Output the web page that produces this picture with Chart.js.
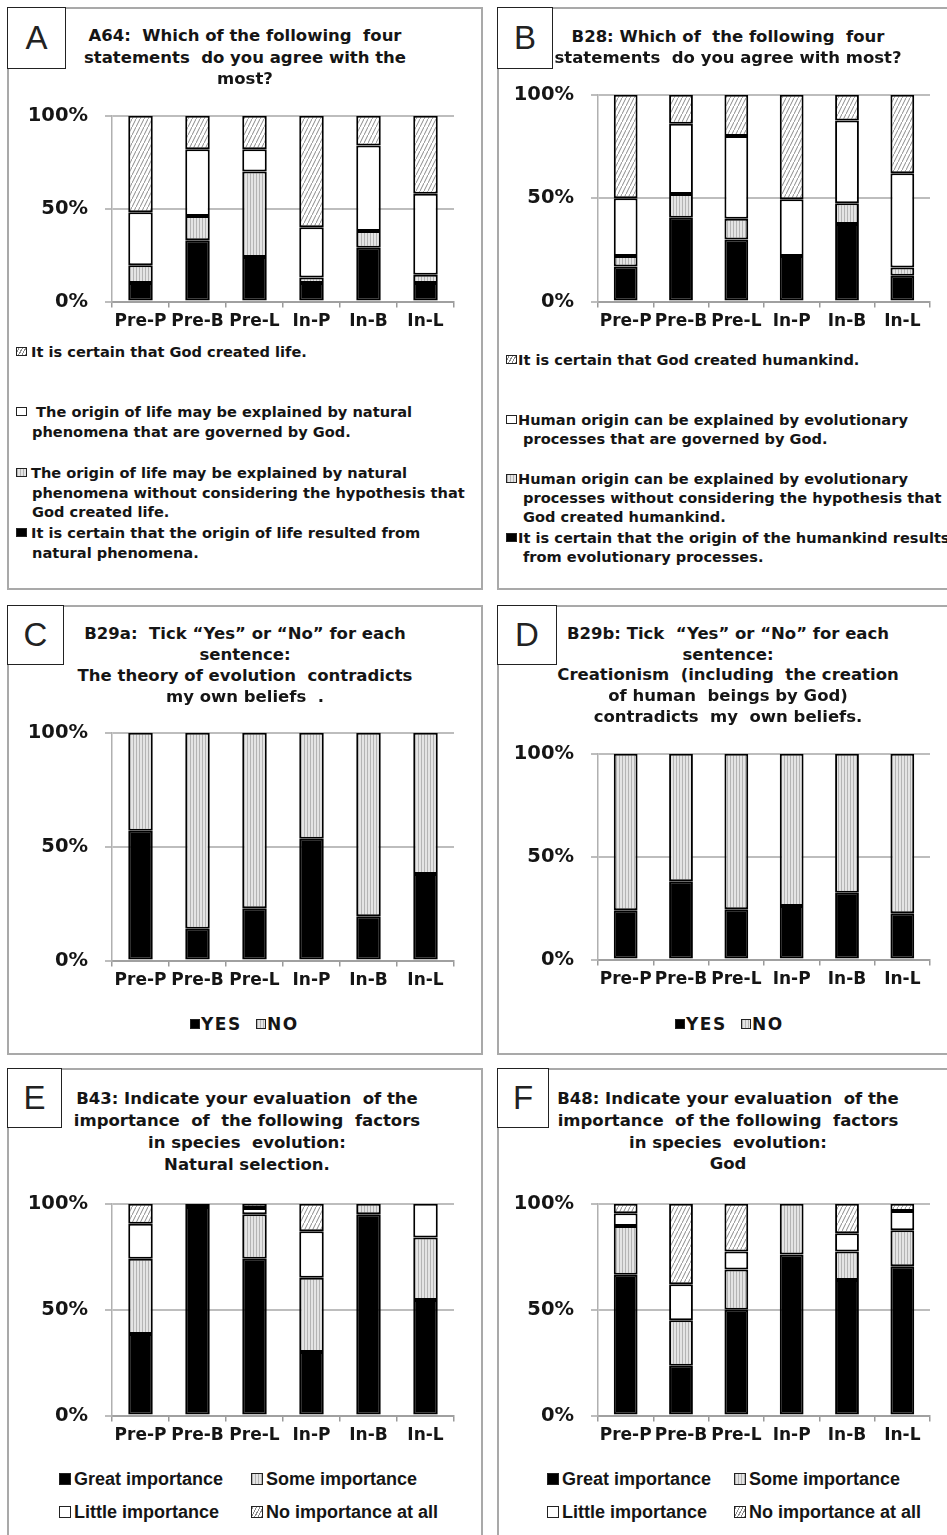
<!DOCTYPE html>
<html>
<head>
<meta charset="utf-8">
<script src="https://cdn.jsdelivr.net/npm/chart.js@4.4.1/dist/chart.umd.min.js"></script>
<style>
  body { margin: 0; width: 947px; height: 1535px; overflow: hidden; position: relative; background: #fff;
         font-family: "DejaVu Sans", Verdana, sans-serif; font-weight: bold; color: #151515; }
  .panel { position: absolute; border: 2px solid #a9a9a9; box-sizing: border-box; }
  .letter { position: absolute; border: 1.5px solid #222; background: #fff; box-sizing: border-box;
            font-family: "Liberation Sans", Arial, sans-serif; font-weight: normal; font-size: 33px; color: #222;
            display: flex; align-items: center; justify-content: center; z-index: 3; }
  .tl { position: absolute; transform: translate(-50%, -50%); white-space: pre; font-size: 16.5px; z-index: 2; }
  .lg { position: absolute; white-space: pre; z-index: 2; }
  .ico { position: absolute; box-sizing: border-box; border: 1.5px solid #222; }
  canvas { position: absolute; z-index: 1; }
</style>
</head>
<body>
<script>
// ---------- data ----------
const groups = ['Pre-P', 'Pre-B', 'Pre-L', 'In-P', 'In-B', 'In-L'];
const yTicks = [0, 50, 100];

// A64 - origin of life (listed bottom segment first)
const aNatural  = [10, 33, 24, 10, 29, 10];
const aNoGod    = [9.5, 13, 46, 3, 9, 4.5];
const aGoverned = [28.5, 36, 12, 27, 46, 43.5];
const aCreated  = [52, 18, 18, 60, 16, 42];

// B28 - origin of humankind
const bNatural  = [17, 40.5, 30, 22, 37.5, 12.5];
const bNoGod    = [5, 11.5, 10, 0, 10, 4];
const bGoverned = [28, 34, 40, 27.5, 40, 45.5];
const bCreated  = [50, 14, 20, 50.5, 12.5, 38];

// B29a - evolution contradicts my beliefs
const cYes = [57, 14, 23, 53.5, 19.5, 38];
const cNo  = [43, 86, 77, 46.5, 80.5, 62];

// B29b - creationism contradicts my beliefs
const dYes = [24, 38, 24.5, 26, 32.5, 22.5];
const dNo  = [76, 62, 75.5, 74, 67.5, 77.5];

// B43 - natural selection importance
const eGreat  = [38.5, 98.5, 74, 30, 95, 54.5];
const eSome   = [35.5, 1.5, 21, 35, 5, 29.5];
const eLittle = [16.5, 0, 3, 22, 0, 16];
const eNone   = [9.5, 0, 2, 13, 0, 0];

// B48 - God importance
const fGreat  = [66.5, 23.5, 50, 76, 64, 70.5];
const fSome   = [23, 21.5, 19, 24, 13.5, 17];
const fLittle = [6, 17, 8.5, 0, 8.5, 9];
const fNone   = [4.5, 38, 22.5, 0, 14, 3.5];

const TICK_FONT = '"DejaVu Sans", Verdana, sans-serif';

// ---------- fill patterns ----------
const fills = { black: '#000', white: '#fff' };
(function buildPatterns() {
  const dc = document.createElement('canvas');
  dc.width = 3; dc.height = 3;
  const d = dc.getContext('2d');
  d.fillStyle = '#e4e4e4'; d.fillRect(0, 0, 3, 3);
  d.fillStyle = '#b4b4b4'; d.fillRect(1, 0, 1, 3);
  const hc = document.createElement('canvas');
  hc.width = 4; hc.height = 8;
  const h = hc.getContext('2d');
  h.fillStyle = '#fff'; h.fillRect(0, 0, 4, 8);
  h.strokeStyle = '#8a8a8a'; h.lineWidth = 1;
  h.beginPath();
  h.moveTo(-0.5, 9); h.lineTo(4.5, -1);
  h.stroke();
  fills.dots = d.createPattern(dc, 'repeat');
  fills.hatch = h.createPattern(hc, 'repeat');
})();
const cssFill = {
  black: '#000',
  white: '#fff',
  dots: 'repeating-linear-gradient(90deg,#b4b4b4 0 1px,#e4e4e4 1px 3px)',
  hatch: 'repeating-linear-gradient(-62deg,#8a8a8a 0 1px,#fff 1px 3px)'
};

// ---------- panels ----------
const panels = [
  { letter: 'A', box: [7, 7, 476, 583], lbox: [59, 62], titleX: 245, titleY: [35, 57, 78],
    title: ['A64:  Which of the following  four', 'statements  do you agree with the', 'most?'],
    plot: [112, 116, 454, 302],
    series: [['natural', aNatural, 'black'], ['nogod', aNoGod, 'dots'], ['governed', aGoverned, 'white'], ['created', aCreated, 'hatch']] },
  { letter: 'B', box: [497, 7, 460, 583], lbox: [56, 62], titleX: 728, titleY: [36, 57],
    title: ['B28: Which of  the following  four', 'statements  do you agree with most?'],
    plot: [598, 95, 930, 302],
    series: [['natural', bNatural, 'black'], ['nogod', bNoGod, 'dots'], ['governed', bGoverned, 'white'], ['created', bCreated, 'hatch']] },
  { letter: 'C', box: [7, 605, 476, 450], lbox: [57, 60], titleX: 245, titleY: [633, 654, 675, 696],
    title: ['B29a:  Tick \u201cYes\u201d or \u201cNo\u201d for each', 'sentence:', 'The theory of evolution  contradicts', 'my own beliefs  .'],
    plot: [112, 733, 454, 961],
    series: [['YES', cYes, 'black'], ['NO', cNo, 'dots']] },
  { letter: 'D', box: [497, 605, 460, 450], lbox: [60, 60], titleX: 728, titleY: [633, 654, 674, 695, 716],
    title: ['B29b: Tick  \u201cYes\u201d or \u201cNo\u201d for each', 'sentence:', 'Creationism  (including  the creation', 'of human  beings by God)', 'contradicts  my  own beliefs.'],
    plot: [598, 754, 930, 960],
    series: [['YES', dYes, 'black'], ['NO', dNo, 'dots']] },
  { letter: 'E', box: [7, 1068, 476, 480], lbox: [55, 60], titleX: 247, titleY: [1098, 1120, 1142, 1164],
    title: ['B43: Indicate your evaluation  of the', 'importance  of  the following  factors', 'in species  evolution:', 'Natural selection.'],
    plot: [112, 1204, 454, 1416],
    series: [['Great importance', eGreat, 'black'], ['Some importance', eSome, 'dots'], ['Little importance', eLittle, 'white'], ['No importance at all', eNone, 'hatch']] },
  { letter: 'F', box: [497, 1068, 460, 480], lbox: [52, 60], titleX: 728, titleY: [1098, 1120, 1142, 1163],
    title: ['B48: Indicate your evaluation  of the', 'importance  of the following  factors', 'in species  evolution:', 'God'],
    plot: [598, 1204, 930, 1416],
    series: [['Great importance', fGreat, 'black'], ['Some importance', fSome, 'dots'], ['Little importance', fLittle, 'white'], ['No importance at all', fNone, 'hatch']] }
];

function add(tag, cls, css, text) {
  const el = document.createElement(tag);
  if (cls) el.className = cls;
  el.style.cssText = css;
  if (text !== undefined) el.textContent = text;
  document.body.appendChild(el);
  return el;
}

function chartConfig(p) {
  return {
    type: 'bar',
    data: {
      labels: groups,
      datasets: p.series.map(s => ({
        label: s[0],
        data: s[1],
        backgroundColor: fills[s[2]],
        borderColor: '#000',
        borderWidth: 2,
        borderSkipped: false,
        barPercentage: 0.43,
        categoryPercentage: 1
      }))
    },
    options: {
      responsive: false,
      maintainAspectRatio: false,
      animation: false,
      devicePixelRatio: 1,
      layout: { padding: { top: 4, right: 8, left: 0, bottom: 0 } },
      plugins: { legend: { display: false }, tooltip: { enabled: false } },
      scales: {
        x: {
          stacked: true,
          grid: { display: true, drawOnChartArea: false, drawTicks: true, tickLength: 6, color: '#9a9a9a', lineWidth: 1.5, offset: true },
          border: { display: true, color: '#a0a0a0', width: 2 },
          ticks: { color: '#151515', font: { family: TICK_FONT, size: 17, weight: 'bold' }, padding: 4, maxRotation: 0, autoSkip: false }
        },
        y: {
          stacked: true,
          min: 0,
          max: 100,
          afterBuildTicks: s => { s.ticks = yTicks.map(v => ({ value: v })); },
          grid: { color: '#bdbdbd', lineWidth: 2, tickLength: 7 },
          border: { display: true, color: '#b0b0b0', width: 1.5 },
          ticks: { color: '#151515', font: { family: TICK_FONT, size: 19.5, weight: 'bold' }, padding: 17, callback: v => v + '%' },
          afterFit: s => { s.width = 100; }
        }
      }
    }
  };
}

function drawPanel(p) {
  const [bx, by, bw, bh] = p.box;
  add('div', 'panel', `left:${bx}px;top:${by}px;width:${bw}px;height:${bh}px;`);
  add('div', 'letter', `left:${bx}px;top:${by}px;width:${p.lbox[0]}px;height:${p.lbox[1]}px;`, p.letter);
  p.title.forEach((t, i) => add('div', 'tl', `left:${p.titleX}px;top:${p.titleY[i]}px;`, t));

  const [x0, y0, x1, y1] = p.plot;
  const cv = document.createElement('canvas');
  cv.width = x1 - x0 + 110;
  cv.height = y1 - y0 + 60;
  document.body.appendChild(cv);

  // first pass: measure where the library puts the plot area, then size the canvas to fit
  let chart = new Chart(cv, chartConfig(p));
  const ca = chart.chartArea;
  const w = cv.width + (x1 - x0) - (ca.right - ca.left);
  const h = cv.height + (y1 - y0) - (ca.bottom - ca.top);
  chart.destroy();
  cv.width = w;
  cv.height = h;
  chart = new Chart(cv, chartConfig(p));
  cv.style.left = (x0 - chart.chartArea.left) + 'px';
  cv.style.top = (y0 - chart.chartArea.top) + 'px';
}

panels.forEach(drawPanel);

// ---------- legends ----------
function legendIcon(x, y, w, h, kind) {
  add('div', 'ico', `left:${x}px;top:${y}px;width:${w}px;height:${h}px;background:${cssFill[kind]};`);
}

// long statement legends for A and B: [icon fill, first line y, lines]
const aLegend = [
  ['hatch', 352, ['It is certain that God created life.']],
  ['white', 412, [' The origin of life may be explained by natural', 'phenomena that are governed by God.']],
  ['dots', 473, ['The origin of life may be explained by natural', 'phenomena without considering the hypothesis that', 'God created life.']],
  ['black', 533, ['It is certain that the origin of life resulted from', 'natural phenomena.']]
];
const bLegend = [
  ['hatch', 360, ['It is certain that God created humankind.']],
  ['white', 420, ['Human origin can be explained by evolutionary', 'processes that are governed by God.']],
  ['dots', 479, ['Human origin can be explained by evolutionary', 'processes without considering the hypothesis that', 'God created humankind.']],
  ['black', 538, ['It is certain that the origin of the humankind results', 'from evolutionary processes.']]
];

function statementLegend(items, iconX, textX, indentX, lineH) {
  items.forEach(([kind, y, lines]) => {
    legendIcon(iconX, y - 5, 11, 9, kind);
    lines.forEach((ln, i) => {
      add('div', 'lg', `left:${i ? indentX : textX}px;top:${y + i * lineH - 10}px;font-size:14.6px;line-height:20px;`, ln);
    });
  });
}
statementLegend(aLegend, 16, 31, 32, 19.5);
statementLegend(bLegend, 506, 518, 523, 19.2);

// YES / NO legends for C and D
function ynLegend(p, x, y) {
  let cx = x;
  p.series.forEach(s => {
    legendIcon(cx, y - 5, 10, 10, s[2]);
    const t = add('div', 'lg', `left:${cx + 11}px;top:${y - 10}px;font-size:17px;line-height:20px;letter-spacing:1.5px;`, s[0]);
    cx += 11 + t.offsetWidth + 14;
  });
}
ynLegend(panels[2], 190, 1024);
ynLegend(panels[3], 675, 1024);

// importance legends for E and F (2 x 2)
function impLegend(p, cols, rows) {
  p.series.forEach((s, i) => {
    const x = cols[i % 2], y = rows[Math.floor(i / 2)];
    legendIcon(x, y - 6, 12, 12, s[2]);
    add('div', 'lg', `left:${x + 15}px;top:${y - 11}px;font-family:'Liberation Sans',Arial,sans-serif;font-size:18px;line-height:22px;`, s[0]);
  });
}
impLegend(panels[4], [59, 251], [1479, 1512]);
impLegend(panels[5], [547, 734], [1479, 1512]);
</script>
</body>
</html>
